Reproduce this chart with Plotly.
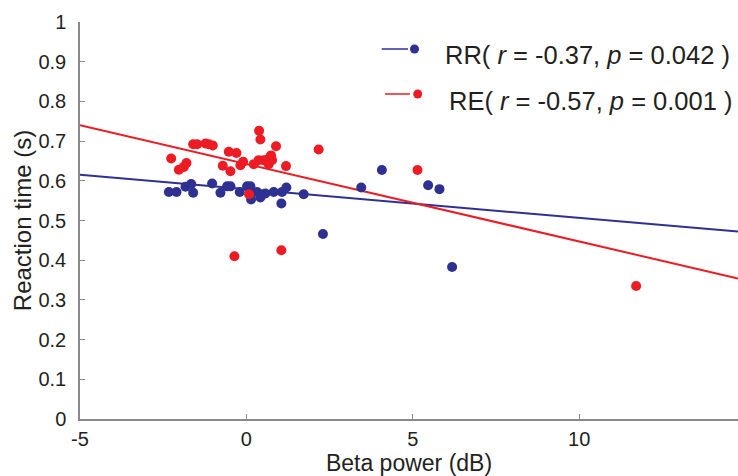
import plotly.graph_objects as go

# ---- data ----
re_x = [-2.26, -2.03, -1.88, -1.80, -1.60, -1.48, -1.23, -1.13, -1.01, -0.71, -0.53, -0.48,
        -0.30, -0.18, -0.10, 0.08, -0.36, 0.38, 0.42, 0.22, 0.37, 0.52, 0.67, 0.74, 0.77,
        0.67, 0.89, 1.19, 1.05, 2.17, 5.14, 11.71]
re_y = [0.656, 0.628, 0.635, 0.645, 0.692, 0.692, 0.694, 0.692, 0.689, 0.638, 0.673, 0.624,
        0.670, 0.639, 0.648, 0.566, 0.410, 0.726, 0.704, 0.642, 0.652, 0.652, 0.656, 0.664, 0.652,
        0.642, 0.687, 0.637, 0.425, 0.679, 0.627, 0.335]

rr_x = [-2.33, -2.10, -1.83, -1.66, -1.60, -1.03, -0.78, -0.58, -0.48, -0.20, 0.02, 0.12,
        0.14, 0.42, 0.57, 0.82, 1.07, 1.05, 1.20, 1.72, 2.30, 3.45, 4.07, 5.46, 5.80, 6.18, 0.32]
rr_y = [0.572, 0.572, 0.585, 0.592, 0.570, 0.593, 0.570, 0.586, 0.586, 0.572, 0.586, 0.586,
        0.553, 0.558, 0.568, 0.572, 0.572, 0.543, 0.583, 0.566, 0.466, 0.583, 0.627, 0.589, 0.579, 0.383, 0.572]

fit_x = [-5, 14.77]
rr_fit_y = [0.615, 0.472]
re_fit_y = [0.740, 0.354]

x_ticks = [-5, 0, 5, 10]
x_tick_labels = ["-5", "0", "5", "10"]
y_ticks = [0, 0.1, 0.2, 0.3, 0.4, 0.5, 0.6, 0.7, 0.8, 0.9, 1]
y_tick_labels = ["0", "0.1", "0.2", "0.3", "0.4", "0.5", "0.6", "0.7", "0.8", "0.9", "1"]

BLUE = "#2e3192"
RED = "#ed1c24"
TXT = "#231f20"
AX = "#8a8a8a"
FONT = "Liberation Sans, Arial, sans-serif"

fig = go.Figure()
fig.add_trace(go.Scatter(x=fit_x, y=rr_fit_y, mode="lines", line=dict(color=BLUE, width=2),
                         showlegend=False, hoverinfo="skip"))
fig.add_trace(go.Scatter(x=fit_x, y=re_fit_y, mode="lines", line=dict(color=RED, width=2),
                         showlegend=False, hoverinfo="skip"))
fig.add_trace(go.Scatter(x=rr_x, y=rr_y, mode="markers", marker=dict(color=BLUE, size=10),
                         showlegend=False))
fig.add_trace(go.Scatter(x=re_x, y=re_y, mode="markers", marker=dict(color=RED, size=10),
                         showlegend=False))

# ---- legend (drawn manually: line followed by dot) ----
W, L, T, H = 658.0, 80.0, 22.0, 397.0
def px(xp):
    return (xp - L) / W
def py(yp):
    return (T + H - yp) / H

legend_rows = [
    (BLUE, 381.7, 408.0, 414.5, 49, 443, 55, "RR( <i>r</i> = -0.37, <i>p</i> = 0.042 )"),
    (RED, 385.0, 410.0, 417.7, 94, 447, 101, "RE( <i>r</i> = -0.57, <i>p</i> = 0.001 )"),
]
shapes = []
annotations = []
for col, lx0, lx1, dx, ly, tx, ty, txt in legend_rows:
    shapes.append(dict(type="line", xref="paper", yref="paper", x0=px(lx0), x1=px(lx1),
                       y0=py(ly), y1=py(ly), line=dict(color=col, width=1.5)))
    shapes.append(dict(type="circle", xref="paper", yref="paper", xsizemode="pixel",
                       ysizemode="pixel", xanchor=px(dx), yanchor=py(ly),
                       x0=-4.5, x1=4.5, y0=-4.5, y1=4.5, fillcolor=col, line=dict(width=0)))
    annotations.append(dict(xref="paper", yref="paper", x=px(tx), y=py(ty), xanchor="left",
                            yanchor="middle", text=txt, showarrow=False,
                            font=dict(family=FONT, size=25.5, color=TXT)))

fig.update_layout(
    width=738, height=476,
    margin=dict(l=80, r=0, t=22, b=57),
    paper_bgcolor="white", plot_bgcolor="white",
    font=dict(family=FONT, color=TXT),
    shapes=shapes, annotations=annotations,
    showlegend=False,
)
fig.update_xaxes(range=[-5, 14.77], tickvals=x_ticks, ticktext=x_tick_labels, ticks="inside",
                 ticklen=5, tickcolor=AX, showline=True, linecolor=AX, linewidth=1.5,
                 showgrid=False, zeroline=False, tickfont=dict(size=20, color=TXT),
                 ticklabelstandoff=1,
                 title=dict(text="Beta power (dB)", font=dict(size=23, color=TXT), standoff=0))
fig.update_yaxes(range=[0, 1], tickvals=y_ticks, ticktext=y_tick_labels, ticks="inside",
                 ticklen=5, tickcolor=AX, showline=True, linecolor=AX, linewidth=1.5,
                 showgrid=False, zeroline=False, tickfont=dict(size=20, color=TXT),
                 ticklabelstandoff=8,
                 title=dict(text="Reaction time (s)", font=dict(size=24, color=TXT), standoff=0))

fig.write_html("out.html")
